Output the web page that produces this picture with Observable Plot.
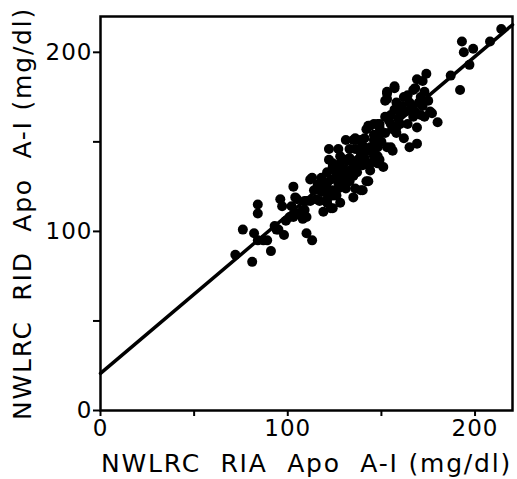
<!DOCTYPE html>
<html>
<head>
<meta charset="utf-8">
<script src="https://cdn.jsdelivr.net/npm/d3@7"></script>
<script src="https://cdn.jsdelivr.net/npm/@observablehq/plot@0.6"></script>
<style>
  html, body { margin: 0; padding: 0; background: #fff; }
  #chart svg { display: block; }
</style>
</head>
<body>
<div id="chart"></div>
<script>
// NWLRC RIA Apo A-I (x) vs NWLRC RID Apo A-I (y), mg/dl
const riaX = [72,76,81,82,84,87,89,91,93,95,98,99,94,
  84,84,96,97,103,104,102,109,109,108,110,113,101,105,110,
  113,112,114,110,112,108,105,103,
  117,121,124,121,123,128,124,121,128,133,135,136,140,143,142,139,
  121,124,122,122,124,128,128,131,133,135,136,137,139,139,141,144,146,146,149,135,142,148,151,
  137,144,139,148,143,149,144,142,149,148,155,156,152,160,167,173,164,169,162,169,165,155,156,153,
  152,158,165,172,176,180,177,
  153,157,167,171,153,157,153,
  169,174,172,168,173,
  187,192,193,194,199,197,208,214,
  120,126,130,131,118,116,126,131,127,133,136,140,145,150,158,160,163,166,162,170,175,155,159,147,141,137,144,148,152,130,132,118,115,119,124,127,
  118,120,123,125,127,129,131,133,135,138,140,143,146,150,154,157,161,164,168,171,158,146];
const ridY = [87,101,83,99,95,95,95,89,103,101,98,106,101,
  115,110,118,114,125,119,114,112,117,107,99,95,108,110,108,
  130,129,123,117,117,112,118,108,
  117,116,113,118,113,116,123,127,129,128,119,124,123,128,128,123,
  133,136,140,146,138,138,142,151,146,151,152,136,144,151,152,138,142,151,140,138,138,138,136,
  151,147,144,142,159,160,159,157,158,160,160,157,164,166,164,164,160,158,152,149,147,147,145,147,
  173,172,172,170,167,161,166,
  177,181,179,175,178,180,174,
  185,188,184,180,178,
  187,179,206,200,202,193,206,213,
  125,131,133,140,122,126,120,124,146,141,146,148,145,150,155,160,167,170,175,172,173,165,163,152,141,133,134,147,155,126,132,130,118,111,120,124,
  128,122,129,134,127,135,129,134,131,140,137,145,154,155,162,168,170,176,167,165,158,160];

// regression line as drawn
const lineX = [0, 220];
const lineY = [20.7, 215.4];

const tickValues = [0, 50, 100, 150, 200];
const labeledTicks = [0, 100, 200];
const xTitle = "NWLRC  RIA  Apo  A-I (mg/dl)";
const yTitle = "NWLRC  RID  Apo  A-I (mg/dl)";

const points = riaX.map((x, i) => ({x, y: ridY[i]}));
const fitLine = lineX.map((x, i) => ({x, y: lineY[i]}));

const font = "DejaVu Sans";
const fmt = d => labeledTicks.includes(d) ? String(d) : "";

const chart = Plot.plot({
  width: 517,
  height: 479,
  marginLeft: 100,
  marginRight: 5,
  marginTop: 16,
  marginBottom: 69,
  style: {fontFamily: font, background: "#fff", color: "#000"},
  x: {domain: [0, 220]},
  y: {domain: [0, 220]},
  marks: [
    Plot.frame({stroke: "#000", strokeWidth: 2.5}),
    Plot.axisX({ticks: tickValues, tickFormat: fmt, tickSize: 6, tickPadding: 3, strokeWidth: 2, fontSize: 23, label: null}),
    Plot.axisY({ticks: tickValues, tickFormat: fmt, tickSize: 7, tickPadding: 1, strokeWidth: 2, fontSize: 23, label: null}),
    Plot.line(fitLine, {x: "x", y: "y", stroke: "#000", strokeWidth: 3.5}),
    Plot.dot(points, {x: "x", y: "y", r: 5, fill: "#000", stroke: "none"}),
    Plot.text([xTitle], {frameAnchor: "bottom", dy: 53, text: d => d, fontSize: 25, textAnchor: "middle", lineAnchor: "middle"}),
    Plot.text([yTitle], {frameAnchor: "left", dx: -78, rotate: -90, text: d => d, fontSize: 25, textAnchor: "middle", lineAnchor: "middle"})
  ]
});
document.getElementById("chart").appendChild(chart);
// wider letter spacing, as in the original typeface
d3.select(chart).selectAll("g[aria-label=text] text").style("letter-spacing", "1.8px");
d3.select(chart).selectAll("g[aria-label='x-axis tick label'] text, g[aria-label='y-axis tick label'] text").style("letter-spacing", "1px");
</script>
</body>
</html>
